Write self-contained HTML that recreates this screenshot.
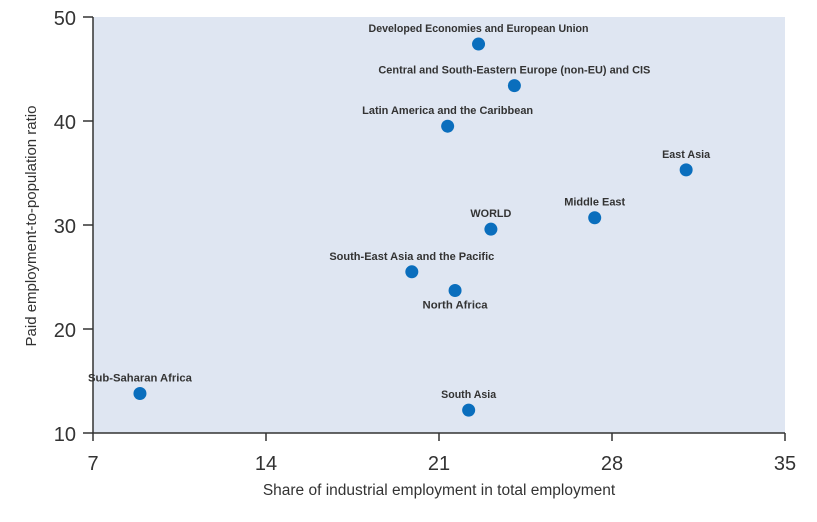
<!DOCTYPE html>
<html><head><meta charset="utf-8"><style>
body{margin:0;background:#fff;}
svg{display:block;font-family:"Liberation Sans",sans-serif;}
</style></head><body>
<svg id="chart" width="817" height="522"></svg>
<script>
const regions=["Developed Economies and European Union","Central and South-Eastern Europe (non-EU) and CIS","Latin America and the Caribbean","East Asia","Middle East","WORLD","South-East Asia and the Pacific","North Africa","Sub-Saharan Africa","South Asia"];
const industryShare=[22.6,24.05,21.35,31.0,27.3,23.1,19.9,21.65,8.9,22.2];
const paidRatio=[47.4,43.4,39.5,35.3,30.7,29.6,25.5,23.7,13.8,12.2];
const xTicks=[7,14,21,28,35];
const yTicks=[10,20,30,40,50];
// label layout: [dx, dy, width]
const labelLayout=[[0,-15,220],[0,-15,272],[0,-15,171],[0,-15,48],[0,-15,61],[0,-15,41],[0,-15,165],[0,15,65],[0,-15,104],[0,-15,55]];
const NS="http://www.w3.org/2000/svg";
const svg=document.getElementById('chart');
const L=93,R=785,T=17,B=433;
const xs=v=>L+(v-7)/(35-7)*(R-L);
const ys=v=>B-(v-10)/(50-10)*(B-T);
function mk(tag,a,p){const e=document.createElementNS(NS,tag);for(const k in a)e.setAttribute(k,a[k]);(p||svg).appendChild(e);return e;}
const bg=mk('rect',{x:L,y:T,width:R-L,height:B-T,fill:'#dfe6f2'});


const ax=mk('path',{d:`M${L},${T}V${B}H${R}`,stroke:'#333',fill:'none','stroke-width':1.5});


xTicks.forEach(t=>{
 const tk=mk('line',{x1:xs(t),x2:xs(t),y1:B,y2:B+8,stroke:'#333','stroke-width':1.5});
 
 
 const tl=mk('text',{x:xs(t),y:B+37,'text-anchor':'middle','font-size':20,fill:'#333'});
 tl.textContent=t;
 
 
});
yTicks.forEach(t=>{
 const tk=mk('line',{x1:L-10,x2:L,y1:ys(t),y2:ys(t),stroke:'#333','stroke-width':1.5});
 
 
 const tl=mk('text',{x:L-17,y:ys(t)+8,'text-anchor':'end','font-size':20,fill:'#333'});
 tl.textContent=t;
 
 
});
const xt=mk('text',{x:439,y:495,'text-anchor':'middle','font-size':15.5,fill:'#333'});
xt.textContent='Share of industrial employment in total employment';


const yt=mk('text',{x:0,y:0,'text-anchor':'middle','font-size':15,fill:'#333',transform:'translate(36,226) rotate(-90)'});
yt.textContent='Paid employment-to-population ratio';


regions.forEach((r,i)=>{
 const cx=xs(industryShare[i]),cy=ys(paidRatio[i]);
 const c=mk('circle',{cx,cy,r:6.5,fill:'#0a6ebd'});
 
 
 const lo=labelLayout[i];
 const t=mk('text',{x:cx+lo[0],y:cy+lo[1]+3,'text-anchor':'middle','font-size':11,'font-weight':'bold',fill:'#333',textLength:lo[2],lengthAdjust:'spacingAndGlyphs'});
 t.textContent=r;
 
 
});
</script>
</body></html>
